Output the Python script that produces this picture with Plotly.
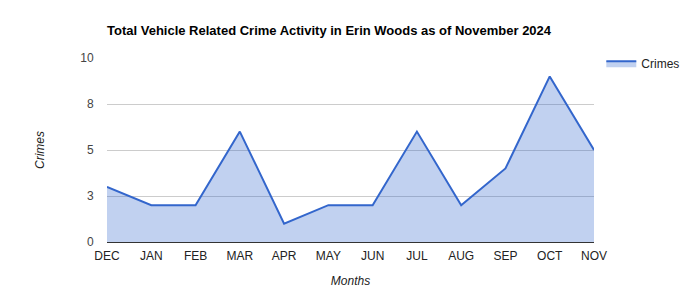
import plotly.graph_objects as go

months = ["DEC", "JAN", "FEB", "MAR", "APR", "MAY", "JUN", "JUL", "AUG", "SEP", "OCT", "NOV"]
crimes = [3, 2, 2, 6, 1, 2, 2, 6, 2, 4, 9, 5]
ytick_vals = [0, 2.5, 5, 7.5, 10]
ytick_text = ["0", "3", "5", "8", "10"]

FONT = "Liberation Sans, Arial, sans-serif"

fig = go.Figure()
fig.add_trace(go.Scatter(
    x=months, y=crimes, name="Crimes", mode="lines",
    line=dict(color="#3366cc", width=2),
    fill="tozeroy", fillcolor="rgba(51,102,204,0.3)",
))

fig.update_layout(
    width=700, height=300,
    margin=dict(l=107, r=106, t=58, b=58, autoexpand=False),
    paper_bgcolor="white", plot_bgcolor="white",
    font=dict(family=FONT, size=12, color="#444"),
    title=dict(text="<b>Total Vehicle Related Crime Activity in Erin Woods as of November 2024</b>",
               x=107/700, xanchor="left", y=1-30/300, yanchor="middle",
               font=dict(family=FONT, size=13, color="#000")),
    showlegend=True,
    legend=dict(x=1.015, xanchor="left", y=1.05, yanchor="top",
                font=dict(family=FONT, size=12, color="#222"),
                bgcolor="rgba(0,0,0,0)"),
    xaxis=dict(
        range=[0, len(months) - 1], type="category", automargin=False,
        showgrid=False, zeroline=False, showline=False,
        tickfont=dict(family=FONT, size=12, color="#222"),
        ticks="outside", ticklen=3, tickcolor="rgba(0,0,0,0)",
        title=dict(text="<i>Months</i>", font=dict(family=FONT, size=12, color="#222"), standoff=14),
    ),
    yaxis=dict(
        range=[0, 10], tickvals=ytick_vals, ticktext=ytick_text, automargin=False,
        showgrid=True, gridcolor="#cccccc", gridwidth=1,
        zeroline=True, zerolinecolor="#333333", zerolinewidth=1,
        showline=False,
        tickfont=dict(family=FONT, size=12, color="#444"),
        ticks="outside", ticklen=10, tickcolor="rgba(0,0,0,0)",
        title=dict(text="<i>Crimes</i>", font=dict(family=FONT, size=12, color="#222"), standoff=33),
    ),
)

fig.write_html("out.html")
